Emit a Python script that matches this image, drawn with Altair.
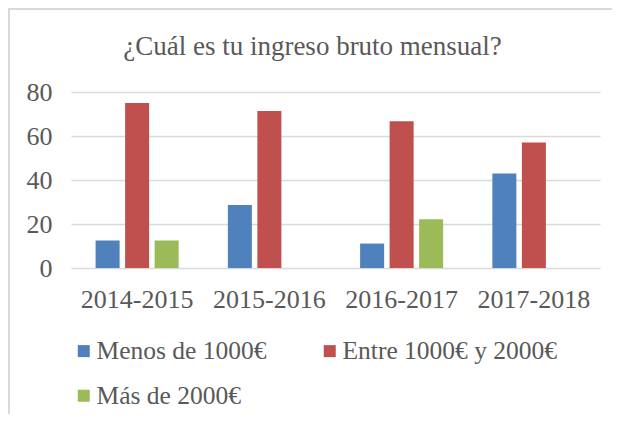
import altair as alt
import pandas as pd

periods = ["2014-2015", "2015-2016", "2016-2017", "2017-2018"]
series = ["Menos de 1000€", "Entre 1000€ y 2000€", "Más de 2000€"]
menos = [12.5, 28.6, 11.1, 42.9]
entre = [75.0, 71.4, 66.7, 57.1]
mas = [12.5, 0.0, 22.2, 0.0]
colors = ["#4F81BD", "#C0504D", "#9BBB59"]
y_ticks = [0, 20, 40, 60, 80]

rows = []
for s, vals in zip(series, [menos, entre, mas]):
    for p, v in zip(periods, vals):
        rows.append({"period": p, "series": s, "value": v})
df = pd.DataFrame(rows)

FONT = "Liberation Serif"
TXT = "#595959"

bars = alt.Chart(df).mark_bar().encode(
    x=alt.X("period:N", sort=periods, title=None,
            scale=alt.Scale(paddingInner=0.372, paddingOuter=0.186),
            axis=alt.Axis(labelAngle=0, ticks=False, domain=False, grid=False,
                          labelFont=FONT, labelFontSize=26, labelColor=TXT,
                          labelPadding=18)),
    xOffset=alt.XOffset("series:N", sort=series,
                        scale=alt.Scale(paddingInner=0.186, paddingOuter=0)),
    y=alt.Y("value:Q", title=None,
            scale=alt.Scale(domain=[0, 80], nice=False),
            axis=alt.Axis(values=y_ticks, ticks=False, domain=False,
                          gridColor="#d9d9d9", gridWidth=1.5,
                          labelFont=FONT, labelFontSize=26, labelColor=TXT,
                          labelPadding=19)),
    color=alt.Color("series:N", sort=series,
                    scale=alt.Scale(domain=series, range=colors),
                    legend=alt.Legend(title=None, orient="none", direction="horizontal",
                                      legendX=0, legendY=246, padding=0,
                                      columns=2, columnPadding=50, rowPadding=18,
                                      symbolType="square", symbolSize=144,
                                      symbolStrokeWidth=0, labelOffset=0,
                                      labelFont=FONT, labelFontSize=25.5,
                                      labelColor=TXT, labelLimit=400)),
)

border_top = alt.Chart(pd.DataFrame({"k": [0]})).mark_rule(color="#d9d9d9", strokeWidth=2).encode(
    x=alt.value(-63), x2=alt.value(541), y=alt.value(-83))
border_left = alt.Chart(pd.DataFrame({"k": [0]})).mark_rule(color="#d9d9d9", strokeWidth=2).encode(
    x=alt.value(-62), y=alt.value(-84), y2=alt.value(322))

chart = alt.layer(bars, border_top, border_left).properties(
    width=529, height=176,
    autosize=alt.AutoSizeParams(type="none"),
    padding={"left": 63, "top": 84, "right": 12, "bottom": 146},
    title=alt.TitleParams("¿Cuál es tu ingreso bruto mensual?", font=FONT, fontSize=27,
                          color=TXT, fontWeight="normal", anchor="middle",
                          dx=-23, dy=75, offset=0, baseline="alphabetic"),
).configure_view(stroke=None)

chart.save("out.html", embed_options={"renderer": "svg", "actions": False})
